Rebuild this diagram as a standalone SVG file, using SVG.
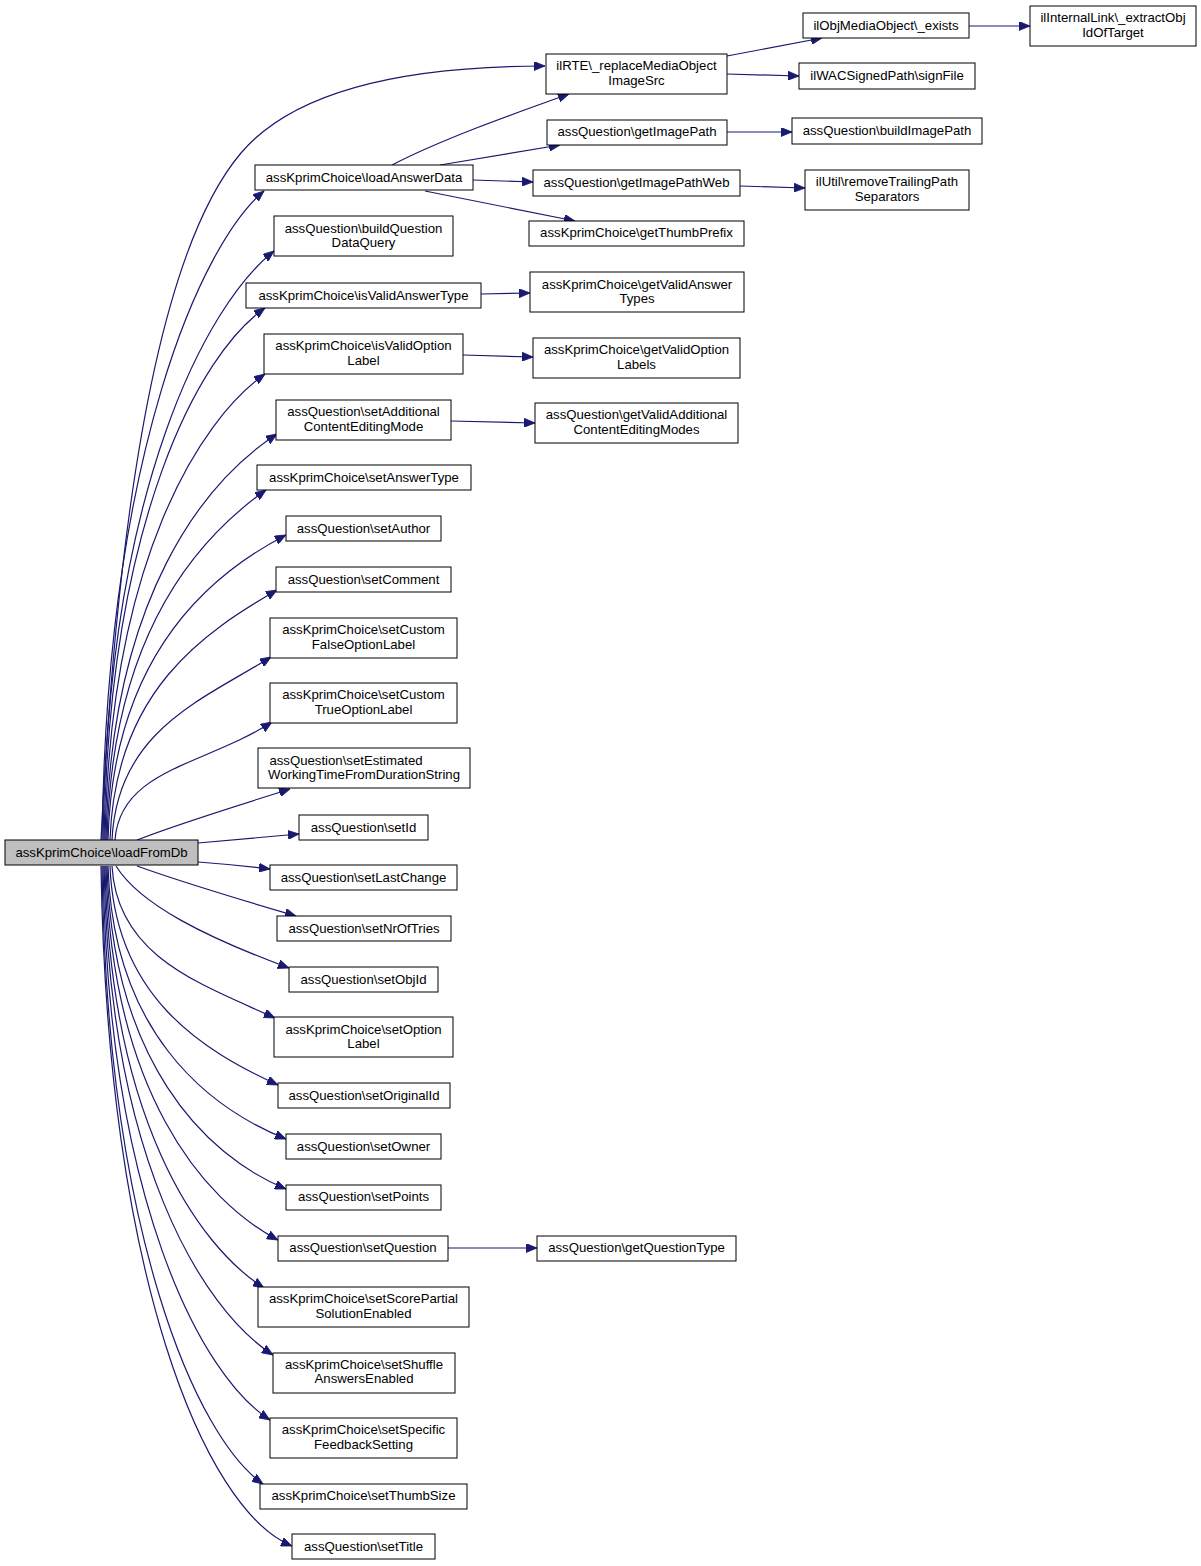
<svg xmlns="http://www.w3.org/2000/svg" width="1201" height="1566" viewBox="0 0 1201 1566">
<style>
.n rect{fill:#ffffff;stroke:#000000;stroke-width:1}
.n.m rect{fill:#bfbfbf}
.n text{font-family:"Liberation Sans",Arial,sans-serif;font-size:13.2px;fill:#000000;text-anchor:middle}
.e path{fill:none;stroke:#191970;stroke-width:1.2;marker-end:url(#arr)}
</style>
<defs>
<marker id="arr" markerUnits="userSpaceOnUse" markerWidth="12" markerHeight="9" refX="11" refY="4.5" orient="auto">
<path d="M0,0 L11,4.5 L0,9 z" fill="#191970" stroke="#191970" stroke-width="0.8"/>
</marker>
</defs>
<rect x="0" y="0" width="1201" height="1566" fill="#ffffff"/>
<g id="edges" class="e">
<path d="M101,840 C115,560 150,260 241,153 C301,82 430,66 545,66"/>
<path d="M102,840 C107,451 202,243 264,191"/>
<path d="M103,840 C108,487 207,304 274,251"/>
<path d="M104,840 C109,521 199,354 265,308"/>
<path d="M105,840 C110,560 200,420 265,374"/>
<path d="M106,840 C111,596 205,481 277,434"/>
<path d="M107,840 C112,630 201,536 266,490"/>
<path d="M108,840 C113,657 207,576 286,535"/>
<path d="M110,840 C115,690 205,632 277,590"/>
<path d="M112,840 C117,730 204,699 271,657"/>
<path d="M115,840 C120,769 206,765 272,722"/>
<path d="M137,840 C180,823 240,805 290,789"/>
<path d="M198,843 C230,840 265,837 299,834"/>
<path d="M198,862 C225,864 245,866 270,869"/>
<path d="M137,866 C190,885 245,901 296,916"/>
<path d="M116,866 C140,905 208,938 289,968"/>
<path d="M112,866 C117,957 201,984 275,1018"/>
<path d="M110,866 C115,997 202,1050 278,1085"/>
<path d="M108,866 C113,1029 204,1106 286,1139"/>
<path d="M107,866 C112,1059 203,1155 286,1189"/>
<path d="M106,866 C111,1090 202,1200 278,1240"/>
<path d="M105,866 C110,1119 197,1245 264,1288"/>
<path d="M104,866 C109,1159 202,1309 273,1355"/>
<path d="M103,866 C108,1198 200,1375 270,1420"/>
<path d="M102,866 C107,1236 197,1438 263,1484"/>
<path d="M101,866 C107,1274 204,1510 292,1546"/>
<path d="M392,165 C440,140 510,115 569,94"/>
<path d="M440,165 L560,145"/>
<path d="M473,180 L533,182"/>
<path d="M425,191 L575,221"/>
<path d="M727,56 L822,38"/>
<path d="M727,74 L799,76"/>
<path d="M969,26 L1030,26"/>
<path d="M727,132 L792,132"/>
<path d="M740,186 L805,188"/>
<path d="M481,294 L530,293"/>
<path d="M463,355 L533,357"/>
<path d="M451,421 L535,423"/>
<path d="M448,1248 L537,1248"/>
</g>
<g id="n_main" class="n m"><rect x="5" y="840" width="193" height="25"/><text x="101.5" y="857">assKprimChoice\loadFromDb</text></g>
<g id="n_loadAnswerData" class="n"><rect x="255" y="165" width="218" height="25"/><text x="364" y="182">assKprimChoice\loadAnswerData</text></g>
<g id="n_buildQuestionDataQuery" class="n"><rect x="274" y="216" width="179" height="40"/><text x="363.5" y="233">assQuestion\buildQuestion</text><text x="363.5" y="247">DataQuery</text></g>
<g id="n_isValidAnswerType" class="n"><rect x="246" y="283" width="235" height="25"/><text x="363.5" y="300">assKprimChoice\isValidAnswerType</text></g>
<g id="n_isValidOptionLabel" class="n"><rect x="264" y="334" width="199" height="40"/><text x="363.5" y="350">assKprimChoice\isValidOption</text><text x="363.5" y="365">Label</text></g>
<g id="n_setAdditional" class="n"><rect x="276" y="400" width="175" height="40"/><text x="363.5" y="416">assQuestion\setAdditional</text><text x="363.5" y="431">ContentEditingMode</text></g>
<g id="n_setAnswerType" class="n"><rect x="257" y="465" width="214" height="25"/><text x="364" y="482">assKprimChoice\setAnswerType</text></g>
<g id="n_setAuthor" class="n"><rect x="286" y="516" width="155" height="25"/><text x="363.5" y="533">assQuestion\setAuthor</text></g>
<g id="n_setComment" class="n"><rect x="276" y="567" width="175" height="25"/><text x="363.5" y="584">assQuestion\setComment</text></g>
<g id="n_setCustomFalse" class="n"><rect x="270" y="618" width="187" height="40"/><text x="363.5" y="634">assKprimChoice\setCustom</text><text x="363.5" y="649">FalseOptionLabel</text></g>
<g id="n_setCustomTrue" class="n"><rect x="270" y="683" width="187" height="40"/><text x="363.5" y="699">assKprimChoice\setCustom</text><text x="363.5" y="714">TrueOptionLabel</text></g>
<g id="n_setEstimated" class="n"><rect x="258" y="748" width="212" height="40"/><text x="346" y="765">assQuestion\setEstimated</text><text x="364" y="779">WorkingTimeFromDurationString</text></g>
<g id="n_setId" class="n"><rect x="299" y="815" width="129" height="25"/><text x="363.5" y="832">assQuestion\setId</text></g>
<g id="n_setLastChange" class="n"><rect x="270" y="865" width="187" height="25"/><text x="363.5" y="882">assQuestion\setLastChange</text></g>
<g id="n_setNrOfTries" class="n"><rect x="277" y="916" width="174" height="25"/><text x="364" y="933">assQuestion\setNrOfTries</text></g>
<g id="n_setObjId" class="n"><rect x="289" y="967" width="149" height="25"/><text x="363.5" y="984">assQuestion\setObjId</text></g>
<g id="n_setOptionLabel" class="n"><rect x="274" y="1017" width="179" height="40"/><text x="363.5" y="1034">assKprimChoice\setOption</text><text x="363.5" y="1048">Label</text></g>
<g id="n_setOriginalId" class="n"><rect x="278" y="1083" width="172" height="25"/><text x="364" y="1100">assQuestion\setOriginalId</text></g>
<g id="n_setOwner" class="n"><rect x="286" y="1134" width="155" height="25"/><text x="363.5" y="1151">assQuestion\setOwner</text></g>
<g id="n_setPoints" class="n"><rect x="286" y="1185" width="155" height="25"/><text x="363.5" y="1201">assQuestion\setPoints</text></g>
<g id="n_setQuestion" class="n"><rect x="278" y="1236" width="170" height="25"/><text x="363" y="1252">assQuestion\setQuestion</text></g>
<g id="n_setScorePartial" class="n"><rect x="258" y="1287" width="211" height="40"/><text x="363.5" y="1303">assKprimChoice\setScorePartial</text><text x="363.5" y="1318">SolutionEnabled</text></g>
<g id="n_setShuffle" class="n"><rect x="273" y="1353" width="182" height="40"/><text x="364" y="1369">assKprimChoice\setShuffle</text><text x="364" y="1383">AnswersEnabled</text></g>
<g id="n_setSpecific" class="n"><rect x="270" y="1418" width="187" height="40"/><text x="363.5" y="1434">assKprimChoice\setSpecific</text><text x="363.5" y="1449">FeedbackSetting</text></g>
<g id="n_setThumbSize" class="n"><rect x="260" y="1484" width="207" height="25"/><text x="363.5" y="1500">assKprimChoice\setThumbSize</text></g>
<g id="n_setTitle" class="n"><rect x="292" y="1534" width="143" height="25"/><text x="363.5" y="1551">assQuestion\setTitle</text></g>
<g id="n_replaceMediaObjectImageSrc" class="n"><rect x="546" y="54" width="181" height="40"/><text x="636.5" y="70">ilRTE\_replaceMediaObject</text><text x="636.5" y="85">ImageSrc</text></g>
<g id="n_getImagePath" class="n"><rect x="547" y="120" width="180" height="25"/><text x="637" y="136">assQuestion\getImagePath</text></g>
<g id="n_getImagePathWeb" class="n"><rect x="533" y="170" width="207" height="26"/><text x="636.5" y="187">assQuestion\getImagePathWeb</text></g>
<g id="n_getThumbPrefix" class="n"><rect x="529" y="221" width="215" height="25"/><text x="636.5" y="237">assKprimChoice\getThumbPrefix</text></g>
<g id="n_getValidAnswerTypes" class="n"><rect x="530" y="272" width="214" height="40"/><text x="637" y="289">assKprimChoice\getValidAnswer</text><text x="637" y="303">Types</text></g>
<g id="n_getValidOptionLabels" class="n"><rect x="533" y="338" width="207" height="40"/><text x="636.5" y="354">assKprimChoice\getValidOption</text><text x="636.5" y="369">Labels</text></g>
<g id="n_getValidAdditional" class="n"><rect x="535" y="403" width="203" height="40"/><text x="636.5" y="419">assQuestion\getValidAdditional</text><text x="636.5" y="434">ContentEditingModes</text></g>
<g id="n_getQuestionType" class="n"><rect x="537" y="1236" width="199" height="25"/><text x="636.5" y="1252">assQuestion\getQuestionType</text></g>
<g id="n_exists" class="n"><rect x="803" y="13" width="166" height="25"/><text x="886" y="30">ilObjMediaObject\_exists</text></g>
<g id="n_signFile" class="n"><rect x="799" y="63" width="176" height="26"/><text x="887" y="80">ilWACSignedPath\signFile</text></g>
<g id="n_buildImagePath" class="n"><rect x="792" y="118" width="190" height="26"/><text x="887" y="135">assQuestion\buildImagePath</text></g>
<g id="n_removeTrailing" class="n"><rect x="805" y="170" width="164" height="40"/><text x="887" y="186">ilUtil\removeTrailingPath</text><text x="887" y="201">Separators</text></g>
<g id="n_extractObj" class="n"><rect x="1030" y="6" width="166" height="40"/><text x="1113" y="22">ilInternalLink\_extractObj</text><text x="1113" y="37">IdOfTarget</text></g>
</svg>
